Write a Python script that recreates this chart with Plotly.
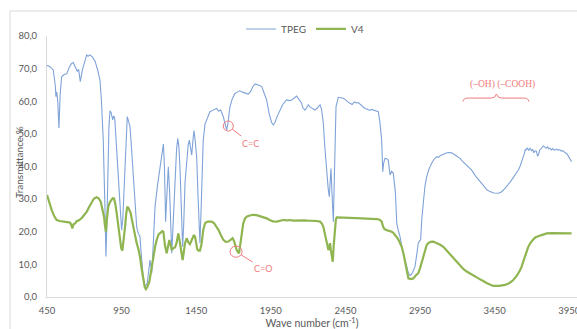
import plotly.graph_objects as go

# ---------------- data ----------------
tpeg_wavenumber = [450, 470, 492, 505, 510, 515, 522, 530, 538, 548, 565, 582, 600, 615, 626, 640, 653, 662, 673, 687,
                   700, 716, 725, 738, 755, 772, 790, 805, 815, 827, 838, 845, 851, 857, 865, 872, 880, 890, 897, 904,
                   915, 928, 940, 950, 958, 966, 976, 988, 996, 1006, 1016, 1028, 1040, 1051, 1062, 1073, 1080, 1085,
                   1095, 1107, 1115, 1122, 1132, 1140, 1146, 1152, 1162, 1174, 1190, 1207, 1220, 1230, 1237, 1245,
                   1252, 1263, 1272, 1280, 1286, 1295, 1308, 1318, 1326, 1334, 1341, 1350, 1359, 1366, 1375, 1386,
                   1396, 1404, 1412, 1420, 1428, 1435, 1443, 1453, 1463, 1475, 1485, 1497, 1509, 1520, 1532, 1542,
                   1560, 1587, 1600, 1614, 1630, 1645, 1654, 1662, 1676, 1692, 1710, 1725, 1743, 1760, 1780, 1799,
                   1815, 1830, 1845, 1855, 1870, 1889, 1905, 1922, 1940, 1955, 1967, 1980, 1995, 2012, 2030, 2056,
                   2075, 2090, 2105, 2123, 2140, 2155, 2165, 2179, 2190, 2201, 2215, 2230, 2246, 2262, 2280, 2290,
                   2302, 2312, 2325, 2335, 2342, 2347, 2353, 2360, 2369, 2375, 2380, 2387, 2402, 2420, 2436, 2450,
                   2465, 2481, 2495, 2510, 2525, 2536, 2550, 2565, 2581, 2595, 2610, 2625, 2637, 2655, 2670, 2680,
                   2687, 2693, 2700, 2706, 2715, 2727, 2737, 2743, 2749, 2760, 2771, 2785, 2794, 2805, 2816, 2830,
                   2849, 2868, 2880, 2888, 2900, 2916, 2928, 2938, 2947, 2954, 2962, 2972, 2983, 2995, 3010, 3028,
                   3045, 3062, 3075, 3085, 3106, 3130, 3150, 3162, 3185, 3200, 3218, 3235, 3255, 3270, 3296, 3320,
                   3345, 3363, 3385, 3400, 3419, 3445, 3475, 3495, 3520, 3540, 3555, 3564, 3580, 3595, 3609, 3620,
                   3630, 3638, 3648, 3656, 3660, 3668, 3678, 3687, 3697, 3705, 3713, 3721, 3730, 3737, 3743, 3752,
                   3760, 3768, 3776, 3785, 3795, 3805, 3813, 3821, 3830, 3840, 3850, 3866, 3875, 3885, 3895, 3910,
                   3922, 3933, 3945, 3955, 3966]
tpeg_transmittance = [71.0, 70.6, 69.6, 65.0, 61.4, 62.9, 60.0, 51.8, 62.0, 67.5, 68.2, 68.4, 70.5, 71.6, 71.9, 70.5,
                      69.1, 69.8, 66.0, 69.6, 72.0, 74.2, 73.8, 74.2, 73.5, 72.3, 69.5, 66.5, 60.0, 48.1, 28.0, 12.4,
                      22.0, 38.0, 52.0, 57.1, 56.5, 54.3, 55.5, 54.8, 47.0, 38.0, 26.0, 20.5, 24.0, 32.8, 46.0, 55.3,
                      54.0, 52.2, 46.0, 38.0, 28.0, 21.5, 19.5, 18.5, 14.0, 11.3, 6.0, 3.2, 3.6, 4.3, 9.0, 11.3, 9.5,
                      7.4, 16.0, 27.7, 34.0, 39.9, 44.0, 46.9, 40.0, 23.1, 30.0, 39.9, 32.0, 18.0, 13.4, 22.0, 37.9,
                      45.0, 48.6, 46.0, 39.9, 27.0, 15.4, 22.0, 35.0, 41.0, 46.5, 48.1, 46.0, 43.5, 48.0, 51.0, 48.0,
                      43.0, 30.0, 16.5, 30.0, 48.1, 53.0, 54.3, 56.2, 56.8, 57.2, 57.8, 57.0, 57.3, 55.5, 53.0, 51.2,
                      53.0, 58.3, 60.8, 62.4, 62.8, 63.2, 62.8, 62.6, 62.2, 63.0, 64.5, 65.3, 65.2, 64.9, 64.5, 62.5,
                      60.4, 56.0, 53.5, 52.7, 53.8, 55.6, 57.3, 59.0, 60.4, 60.2, 60.4, 61.0, 61.6, 60.5, 59.5, 58.0,
                      57.3, 58.0, 58.9, 58.2, 57.7, 57.3, 58.0, 58.9, 57.5, 53.2, 46.0, 37.9, 33.0, 30.7, 35.0, 39.4,
                      32.0, 23.1, 35.0, 50.0, 58.3, 61.2, 61.0, 60.9, 60.5, 59.8, 59.4, 59.0, 59.8, 59.5, 59.6, 59.0,
                      58.5, 57.8, 57.6, 57.2, 57.5, 57.3, 57.0, 56.8, 54.0, 50.0, 48.1, 38.4, 41.0, 42.5, 42.4, 42.0,
                      40.0, 37.4, 38.5, 37.9, 32.0, 22.6, 20.3, 18.5, 15.0, 11.3, 8.0, 6.7, 6.7, 7.5, 9.3, 13.0, 16.5,
                      17.2, 17.5, 24.0, 29.7, 34.0, 36.9, 39.2, 41.0, 42.3, 43.0, 42.8, 43.3, 43.8, 44.2, 44.3, 44.2,
                      43.5, 43.0, 42.5, 41.6, 40.8, 40.0, 38.9, 37.2, 35.8, 34.8, 33.5, 32.8, 32.3, 31.9, 31.8, 32.2,
                      33.3, 34.3, 35.3, 35.9, 36.9, 38.0, 38.9, 40.0, 41.8, 42.5, 43.8, 45.3, 45.1, 45.6, 45.0, 45.6,
                      44.8, 45.3, 44.2, 44.8, 44.7, 43.3, 43.5, 45.0, 45.4, 45.8, 46.3, 46.0, 45.6, 46.0, 45.4, 45.6,
                      45.1, 45.5, 45.0, 45.3, 45.0, 45.2, 44.8, 44.8, 44.2, 44.0, 43.0, 42.3, 41.5]

v4_wavenumber = [450, 465, 481, 498, 515, 535, 559, 580, 604, 612, 620, 628, 640, 649, 660, 672, 685, 700, 716, 732,
                 749, 765, 783, 797, 810, 822, 832, 838, 845, 852, 861, 872, 883, 890, 899, 908, 917, 928, 939, 947,
                 955, 963, 973, 981, 988, 997, 1005, 1011, 1020, 1028, 1040, 1051, 1062, 1073, 1085, 1095, 1105, 1113,
                 1124, 1136, 1150, 1162, 1175, 1185, 1198, 1212, 1222, 1230, 1240, 1252, 1260, 1270, 1278, 1286,
                 1297, 1308, 1318, 1330, 1338, 1345, 1352, 1359, 1366, 1375, 1386, 1397, 1408, 1420, 1428, 1435,
                 1442, 1450, 1457, 1466, 1475, 1485, 1497, 1509, 1520, 1531, 1545, 1554, 1570, 1587, 1600, 1615,
                 1632, 1648, 1665, 1680, 1694, 1705, 1714, 1721, 1730, 1737, 1745, 1755, 1765, 1777, 1790, 1810,
                 1830, 1855, 1875, 1900, 1922, 1945, 1965, 1989, 2010, 2034, 2060, 2080, 2100, 2125, 2146, 2170,
                 2200, 2230, 2255, 2280, 2292, 2302, 2312, 2320, 2328, 2336, 2341, 2347, 2352, 2358, 2365, 2372,
                 2380, 2386, 2392, 2410, 2440, 2481, 2520, 2560, 2600, 2630, 2660, 2680, 2693, 2703, 2712, 2727,
                 2745, 2760, 2771, 2785, 2800, 2811, 2827, 2838, 2849, 2860, 2872, 2888, 2905, 2920, 2938, 2950,
                 2960, 2972, 2985, 2995, 3006, 3020, 3039, 3060, 3085, 3106, 3130, 3155, 3184, 3210, 3240, 3263,
                 3290, 3315, 3341, 3370, 3400, 3441, 3480, 3520, 3550, 3575, 3600, 3620, 3631, 3645, 3660, 3676,
                 3690, 3700, 3710, 3725, 3743, 3760, 3780, 3799, 3830, 3860, 3890, 3920, 3945, 3966]
v4_transmittance = [31.3, 29.0, 26.7, 24.8, 23.6, 23.3, 23.1, 22.9, 22.8, 22.2, 21.0, 22.3, 22.6, 23.3, 23.4, 23.8,
                    24.3, 25.2, 26.1, 27.6, 29.2, 30.2, 30.6, 30.2, 29.2, 27.0, 24.6, 22.0, 20.0, 24.0, 27.7, 29.1,
                    29.7, 30.3, 30.2, 28.5, 25.7, 21.0, 17.5, 15.0, 14.2, 17.0, 21.5, 25.5, 27.7, 27.2, 26.2, 25.7,
                    23.5, 21.5, 18.8, 16.5, 14.8, 12.4, 8.5, 5.2, 3.0, 2.4, 3.2, 4.7, 8.8, 12.4, 15.5, 17.5, 19.2,
                    19.7, 20.2, 20.0, 16.0, 13.4, 15.5, 17.5, 16.0, 14.4, 15.0, 15.2, 16.5, 19.5, 17.5, 15.0, 12.5,
                    11.3, 13.5, 16.5, 18.0, 16.8, 16.2, 17.2, 18.3, 19.0, 18.5, 16.5, 14.6, 14.2, 14.2, 16.0, 20.5,
                    22.6, 23.0, 23.1, 23.1, 23.1, 22.6, 21.5, 20.5, 19.0, 17.5, 16.9, 17.0, 17.5, 18.0, 17.0, 15.5,
                    14.4, 13.8, 13.4, 16.0, 20.0, 22.5, 24.1, 24.7, 25.0, 25.2, 25.1, 24.8, 24.4, 24.1, 23.5, 23.2,
                    23.1, 23.4, 23.6, 23.5, 23.6, 23.4, 23.5, 23.4, 23.5, 23.4, 23.4, 23.3, 23.1, 22.5, 21.5, 19.5,
                    17.5, 15.5, 14.4, 15.0, 16.5, 14.5, 12.0, 10.8, 16.0, 21.5, 23.8, 24.4, 24.4, 24.3, 24.3, 24.2,
                    24.1, 24.1, 24.0, 23.9, 23.7, 23.1, 21.5, 20.8, 20.5, 20.3, 20.0, 19.7, 19.0, 18.0, 17.0, 15.4,
                    13.5, 11.3, 8.5, 5.7, 5.5, 5.7, 6.5, 7.3, 8.8, 10.5, 12.4, 14.6, 16.0, 16.5, 16.9, 17.0, 16.6,
                    16.0, 15.4, 14.2, 12.7, 11.3, 10.0, 8.6, 7.8, 7.0, 6.4, 5.7, 5.0, 4.2, 3.4, 3.4, 3.7, 4.3, 5.2,
                    6.6, 8.2, 9.3, 11.3, 13.5, 15.4, 16.6, 17.3, 17.7, 18.3, 18.5, 18.9, 19.2, 19.5, 19.6, 19.6,
                    19.7, 19.6, 19.6, 19.5]

series_names = ["TPEG", "V4"]
x_tick_start, x_tick_step = 450, 500
y_ticks = [0, 10, 20, 30, 40, 50, 60, 70, 80]

# annotation anchors (wavenumber, transmittance)
cc_point = (1665, 52.4)
co_point = (1717, 13.9)
bands_point = (3504, 65.0)
brace_point = (3462, 62.2)

# ---------------- styling ----------------
BLUE = "#7FA3D8"
GREEN = "#8FB550"
RED = "#F27A7D"
GREY = "#595959"
AXIS = "#D9D9D9"
FONT = "Lato"

fig = go.Figure()
fig.add_trace(go.Scatter(x=tpeg_wavenumber, y=tpeg_transmittance, mode="lines", name=series_names[0],
                         line=dict(color=BLUE, width=1.1)))
fig.add_trace(go.Scatter(x=v4_wavenumber, y=v4_transmittance, mode="lines", name=series_names[1],
                         line=dict(color=GREEN, width=2.2)))

fig.update_layout(
    width=577, height=329, autosize=False,
    margin=dict(l=47, r=0, t=36, b=32, pad=0),
    paper_bgcolor="white", plot_bgcolor="white",
    separators=",.",
    font=dict(family=FONT, color=GREY, size=10),
    showlegend=True,
    legend=dict(orientation="h", x=0.487, xanchor="center", y=1.027, yanchor="middle",
                font=dict(size=10, color=GREY), bgcolor="rgba(0,0,0,0)", itemwidth=30,
                tracegroupgap=0),
)
fig.update_xaxes(range=[450, 4002], tick0=x_tick_start, dtick=x_tick_step, tickformat="d",
                 showgrid=False, zeroline=False, showline=True, linecolor=AXIS, linewidth=1,
                 ticks="", ticklabelstandoff=5, ticklabeloverflow="allow",
                 tickfont=dict(size=9.5, color=GREY),
                 title=dict(text="Wave number (cm<sup>-1</sup>)", font=dict(size=10.5, color=GREY), standoff=4),
                 automargin=False)
fig.update_yaxes(range=[0, 80], tickvals=y_ticks, tickformat=".1f",
                 showgrid=False, zeroline=False, showline=True, linecolor=AXIS, linewidth=1,
                 ticks="", ticklabelstandoff=7, tickfont=dict(size=9.5, color=GREY),
                 automargin=False)

# outer chart border (light grey frame, cropped at right/bottom)
fig.add_shape(type="rect", xref="paper", yref="paper", x0=-0.0698, x1=1.2, y0=-0.5, y1=1.0958,
              line=dict(color=AXIS, width=1), fillcolor="rgba(0,0,0,0)", layer="below")

# y-axis title (Excel places it over the tick labels)
fig.add_annotation(xref="paper", yref="paper", x=-0.0528, y=0.517, text="Transmittance %",
                   textangle=-90, showarrow=False, xanchor="center", yanchor="middle",
                   font=dict(size=10, color=GREY, family=FONT))

# C=C marker
fig.add_shape(type="circle", xref="x", yref="y", xsizemode="pixel", ysizemode="pixel",
              xanchor=cc_point[0], yanchor=cc_point[1], x0=-5, x1=5, y0=-5, y1=5,
              line=dict(color=RED, width=1))
fig.add_annotation(x=cc_point[0], y=cc_point[1], text="C=C", showarrow=True, arrowhead=0,
                   arrowwidth=1, arrowcolor=RED, ax=22, ay=17, standoff=5,
                   font=dict(size=9, color=RED, family=FONT))

# C=O marker
fig.add_shape(type="circle", xref="x", yref="y", xsizemode="pixel", ysizemode="pixel",
              xanchor=co_point[0], yanchor=co_point[1], x0=-6, x1=6, y0=-5.6, y1=5.6,
              line=dict(color=RED, width=1))
fig.add_annotation(x=co_point[0], y=co_point[1], text="C=O", showarrow=True, arrowhead=0,
                   arrowwidth=1, arrowcolor=RED, ax=27, ay=17, standoff=6,
                   font=dict(size=9, color=RED, family=FONT))

# (-OH) (-COOH) band label with brace
fig.add_annotation(x=bands_point[0], y=bands_point[1], text="(–OH) (–COOH)", showarrow=False,
                   font=dict(size=9.5, color=RED, family="Liberation Serif"))
fig.add_shape(type="path", xref="x", yref="y", xsizemode="pixel", ysizemode="pixel",
              xanchor=brace_point[0], yanchor=brace_point[1],
              path="M -33.5,-7.5 Q -33,-4 -28,-4 L -5,-4 Q -1,-4 0,0 Q 1,-4 5,-4 L 27,-4 Q 32,-4 32.5,-7.5",
              line=dict(color=RED, width=1))

fig.write_html("out.html")
